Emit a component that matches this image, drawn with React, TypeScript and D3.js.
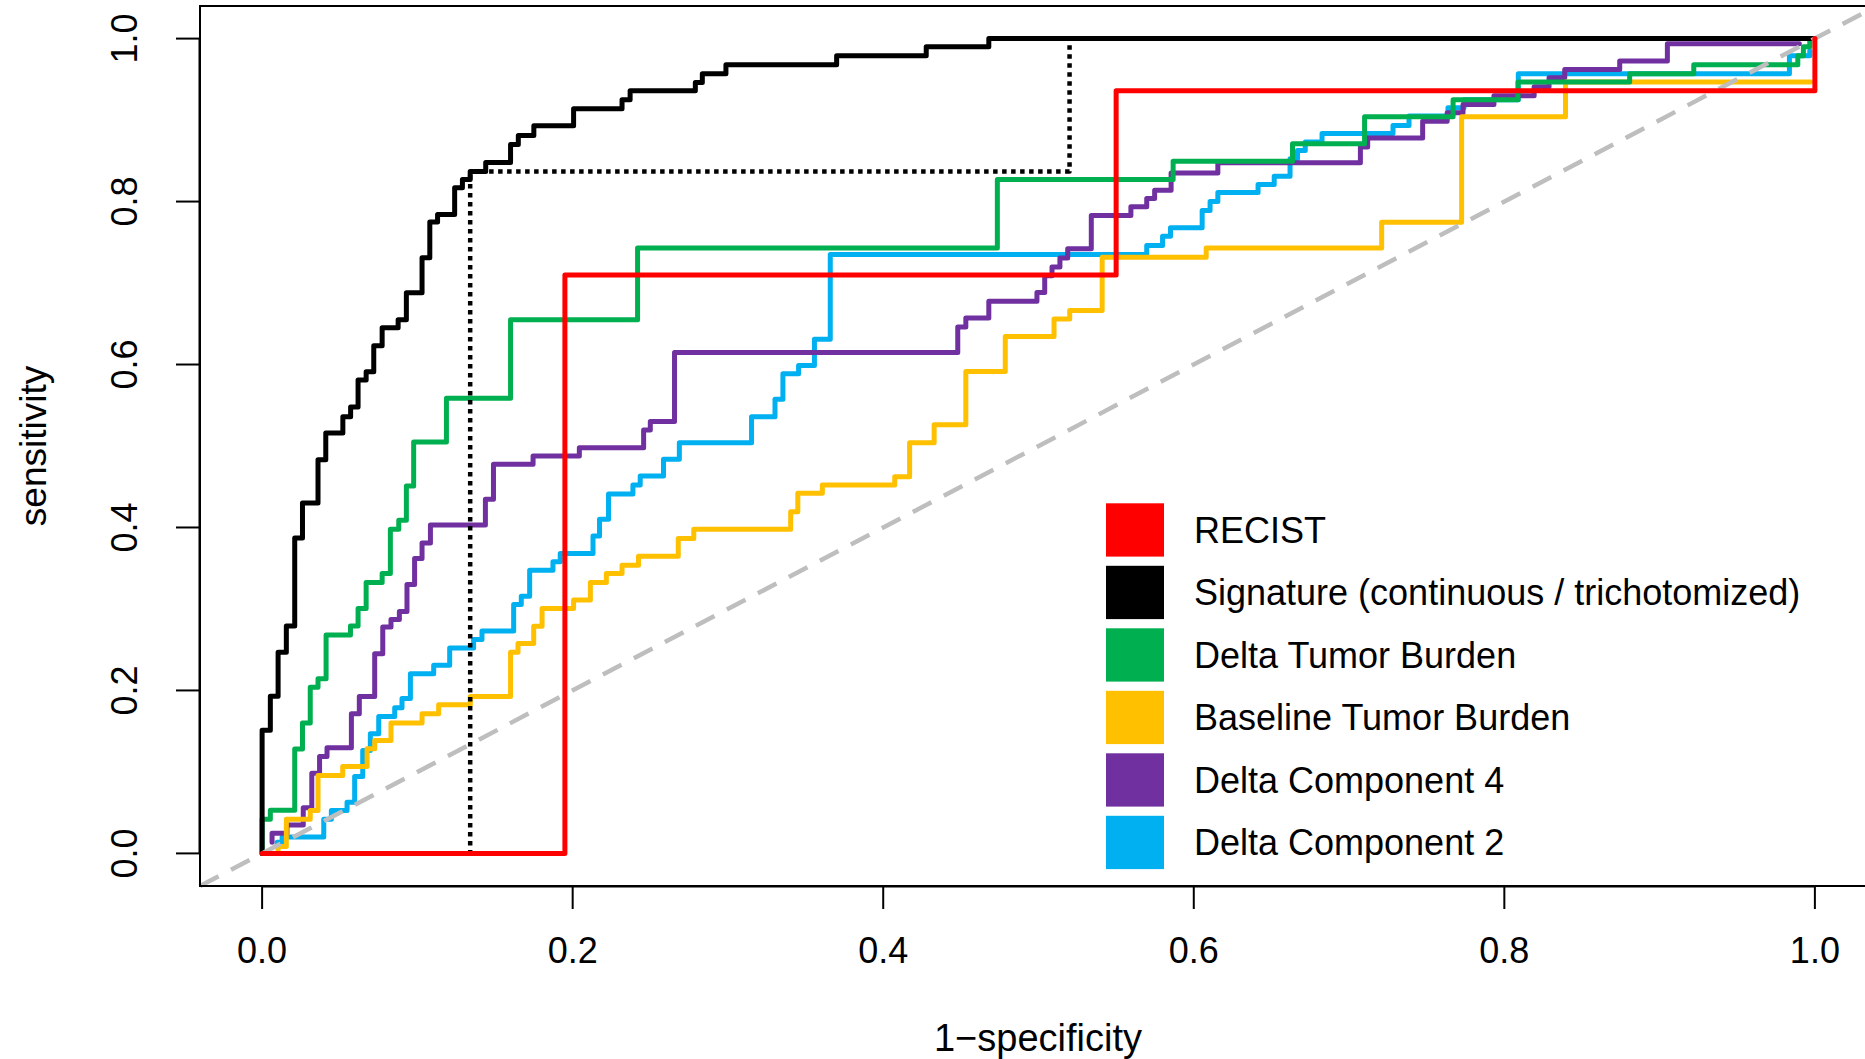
import React, { useRef, useEffect } from 'react';
import * as d3 from 'd3';

// ROC points: each pair is (1-specificity, sensitivity)
// at the top of a vertical jump; the curve then runs flat to the next point.
const recistFpr = [0, 0.195, 0.55, 1];
const recistTpr = [0, 0.71, 0.936, 1];

const triFpr = [0, 0.134, 0.52, 1];
const triTpr = [0, 0.837, 1, 1];

const sigFpr = [0, 0, 0.0053, 0.0103, 0.0156, 0.021, 0.026, 0.036, 0.041, 0.052, 0.057, 0.0618, 0.067, 0.0719,
  0.0773, 0.0876, 0.0929, 0.103, 0.108, 0.113, 0.124, 0.129, 0.134, 0.144, 0.16, 0.165, 0.175, 0.2006, 0.2318,
  0.237, 0.279, 0.2835, 0.2987, 0.37, 0.4277, 0.468, 1];
const sigTpr = [0, 0.151, 0.193, 0.247, 0.279, 0.387, 0.43, 0.483, 0.516, 0.536, 0.548, 0.581, 0.591, 0.623,
  0.645, 0.655, 0.688, 0.731, 0.775, 0.784, 0.817, 0.827, 0.837, 0.848, 0.87, 0.881, 0.893, 0.914, 0.925,
  0.936, 0.946, 0.957, 0.968, 0.979, 0.99, 1, 1];

const deltaTbFpr = [0, 0, 0.0053, 0.021, 0.026, 0.031, 0.036, 0.0412, 0.0569, 0.0618, 0.067, 0.0773, 0.0826,
  0.088, 0.0929, 0.0976, 0.1187, 0.16, 0.2418, 0.4735, 0.5867, 0.6636, 0.71, 0.767, 0.8088, 0.8807, 0.922,
  0.989, 0.9926, 0.9967, 1];
const deltaTbTpr = [0, 0.042, 0.053, 0.128, 0.16, 0.204, 0.2145, 0.268, 0.279, 0.3005, 0.3325, 0.3436, 0.3977,
  0.409, 0.451, 0.505, 0.5587, 0.655, 0.743, 0.827, 0.8496, 0.871, 0.904, 0.925, 0.9467, 0.957, 0.968,
  0.979, 0.99, 1, 1];

const baseTbFpr = [0.0103, 0.0103, 0.0156, 0.031, 0.036, 0.0519, 0.0676, 0.0725, 0.083, 0.103, 0.1137, 0.1341,
  0.16, 0.1648, 0.1749, 0.1803, 0.2006, 0.2114, 0.2217, 0.2318, 0.2424, 0.268, 0.278, 0.3404, 0.345, 0.3608,
  0.4074, 0.417, 0.4328, 0.4532, 0.4786, 0.51, 0.5201, 0.541, 0.608, 0.721, 0.7725, 0.8394, 0.9972];
const baseTbTpr = [0.0034, 0.0084, 0.042, 0.0526, 0.0956, 0.1067, 0.1285, 0.1387, 0.16, 0.1715, 0.1825, 0.1927,
  0.247, 0.2575, 0.2788, 0.3005, 0.311, 0.3325, 0.3436, 0.3538, 0.3648, 0.3866, 0.3977, 0.4193, 0.4419, 0.452,
  0.4624, 0.504, 0.526, 0.5914, 0.6344, 0.6558, 0.6664, 0.7316, 0.743, 0.7746, 0.904, 0.9467, 0.9467];

const comp4Fpr = [0.0064, 0.0064, 0.016, 0.0265, 0.032, 0.037, 0.0418, 0.0575, 0.0626, 0.0725, 0.0777, 0.083,
  0.0884, 0.0933, 0.0982, 0.103, 0.1084, 0.1438, 0.149, 0.1745, 0.2043, 0.2457, 0.25, 0.2656, 0.448, 0.4532,
  0.468, 0.499, 0.504, 0.5087, 0.5138, 0.5188, 0.534, 0.5595, 0.5697, 0.5748, 0.5854, 0.6155, 0.7073, 0.712,
  0.7474, 0.7632, 0.7734, 0.7933, 0.8192, 0.8288, 0.8389, 0.8743, 0.905, 0.99];
const comp4Tpr = [0.0137, 0.0247, 0.035, 0.056, 0.0985, 0.119, 0.1297, 0.1715, 0.1927, 0.245, 0.278, 0.287,
  0.297, 0.33, 0.362, 0.381, 0.403, 0.4346, 0.4776, 0.4878, 0.498, 0.5197, 0.53, 0.6147, 0.646, 0.657,
  0.6775, 0.6885, 0.709, 0.7197, 0.7308, 0.742, 0.783, 0.7935, 0.8037, 0.814, 0.835, 0.8476, 0.867, 0.878,
  0.8987, 0.909, 0.919, 0.93, 0.941, 0.952, 0.962, 0.9725, 0.9938, 0.9938];

const comp2Fpr = [0.0097, 0.0097, 0.0129, 0.0397, 0.0446, 0.0547, 0.0596, 0.0648, 0.0697, 0.0751, 0.0854,
  0.0901, 0.0955, 0.1105, 0.1208, 0.1362, 0.1416, 0.162, 0.1669, 0.1723, 0.1873, 0.192, 0.2131, 0.2173,
  0.2231, 0.2388, 0.2435, 0.2585, 0.2687, 0.3152, 0.3303, 0.3354, 0.3455, 0.3557, 0.3659, 0.5697, 0.5799,
  0.585, 0.6054, 0.6105, 0.6155, 0.6414, 0.6518, 0.662, 0.6668, 0.6718, 0.6826, 0.7283, 0.7386, 0.7637,
  0.774, 0.809, 0.9836, 0.9967];
const comp2Tpr = [0.0084, 0.0137, 0.02, 0.042, 0.0526, 0.0628, 0.0944, 0.1264, 0.1469, 0.168, 0.1789, 0.19,
  0.2206, 0.2308, 0.252, 0.2624, 0.273, 0.3054, 0.3157, 0.3476, 0.358, 0.368, 0.3894, 0.41, 0.441, 0.452,
  0.4632, 0.4837, 0.504, 0.536, 0.5575, 0.5886, 0.5988, 0.631, 0.7349, 0.746, 0.7574, 0.7677, 0.789, 0.8,
  0.811, 0.821, 0.831, 0.8525, 0.8627, 0.873, 0.8836, 0.8934, 0.905, 0.915, 0.925, 0.957, 0.979, 0.985];

const tickValues = [0, 0.2, 0.4, 0.6, 0.8, 1.0];
const tickLabels = ['0.0', '0.2', '0.4', '0.6', '0.8', '1.0'];

const legendLabels = ['RECIST', 'Signature (continuous / trichotomized)', 'Delta Tumor Burden',
  'Baseline Tumor Burden', 'Delta Component 4', 'Delta Component 2'];
const legendColors = ['#ff0000', '#000000', '#00b050', '#ffc000', '#7030a0', '#00b0f0'];

const App = () => {
  const chartRef = useRef<SVGSVGElement>(null);

  useEffect(() => {
    const width = 1865;
    const height = 1059;
    const plot = { left: 200, top: 6, right: 1877, bottom: 886 };
    const font = '"Liberation Sans", Arial, Helvetica, sans-serif';

    const svg = d3.select(chartRef.current)
      .attr('width', width)
      .attr('height', height);
    svg.selectAll('*').remove();

    svg.append('rect').attr('width', width).attr('height', height).attr('fill', '#ffffff');

    // R pads the [0, 1] range by 4% on each side
    const x = d3.scaleLinear().domain([-0.04, 1.04]).range([plot.left, plot.right]);
    const y = d3.scaleLinear().domain([-0.04, 1.04]).range([plot.bottom, plot.top]);

    const step = d3.line<[number, number]>()
      .x(d => x(d[0]))
      .y(d => y(d[1]))
      .curve(d3.curveStepAfter);

    const zip = (a: number[], b: number[]) => a.map((v, i) => [v, b[i]] as [number, number]);

    const drawCurve = (pts: [number, number][], color: string, dash?: string) => {
      const p = svg.append('path')
        .attr('d', step(pts))
        .attr('fill', 'none')
        .attr('stroke', color)
        .attr('stroke-width', dash ? 4.5 : 5)
        .attr('stroke-linejoin', 'round')
        .attr('stroke-linecap', dash ? 'butt' : 'round');
      if (dash) p.attr('stroke-dasharray', dash);
    };

    drawCurve(zip(comp2Fpr, comp2Tpr), legendColors[5]);
    drawCurve(zip(comp4Fpr, comp4Tpr), legendColors[4]);
    drawCurve(zip(baseTbFpr, baseTbTpr), legendColors[3]);
    drawCurve(zip(deltaTbFpr, deltaTbTpr), legendColors[2]);
    drawCurve(zip(sigFpr, sigTpr), legendColors[1]);

    // chance diagonal
    svg.append('line')
      .attr('x1', x(-0.04)).attr('y1', y(-0.04))
      .attr('x2', x(1.04)).attr('y2', y(1.04))
      .attr('stroke', '#bebebe')
      .attr('stroke-width', 4.5)
      .attr('stroke-dasharray', '21 14');

    drawCurve(zip(triFpr, triTpr), '#000000', '4.5 4.5');
    drawCurve(zip(recistFpr, recistTpr), legendColors[0]);

    // box
    svg.append('rect')
      .attr('x', plot.left).attr('y', plot.top)
      .attr('width', plot.right - plot.left).attr('height', plot.bottom - plot.top)
      .attr('fill', 'none').attr('stroke', '#000').attr('stroke-width', 2);

    // x axis
    const xAxis = svg.append('g');
    xAxis.append('line')
      .attr('x1', x(0)).attr('x2', x(1)).attr('y1', plot.bottom + 0.5).attr('y2', plot.bottom + 0.5)
      .attr('stroke', '#000').attr('stroke-width', 2);
    tickValues.forEach((t, i) => {
      xAxis.append('line')
        .attr('x1', x(t)).attr('x2', x(t)).attr('y1', plot.bottom).attr('y2', plot.bottom + 23)
        .attr('stroke', '#000').attr('stroke-width', 2);
      xAxis.append('text')
        .attr('x', x(t)).attr('y', 963)
        .attr('text-anchor', 'middle')
        .attr('font-family', font)
        .attr('font-size', 36)
        .text(tickLabels[i]);
    });

    // y axis
    const yAxis = svg.append('g');
    yAxis.append('line')
      .attr('x1', plot.left - 0.5).attr('x2', plot.left - 0.5).attr('y1', y(0)).attr('y2', y(1))
      .attr('stroke', '#000').attr('stroke-width', 2);
    tickValues.forEach((t, i) => {
      yAxis.append('line')
        .attr('x1', plot.left).attr('x2', plot.left - 24).attr('y1', y(t)).attr('y2', y(t))
        .attr('stroke', '#000').attr('stroke-width', 2);
      yAxis.append('text')
        .attr('transform', `translate(137,${y(t)}) rotate(-90)`)
        .attr('text-anchor', 'middle')
        .attr('font-family', font)
        .attr('font-size', 36)
        .text(tickLabels[i]);
    });

    // axis titles
    svg.append('text')
      .attr('x', 1038).attr('y', 1051)
      .attr('text-anchor', 'middle')
      .attr('font-family', font)
      .attr('font-size', 38)
      .text('1\u2212specificity');
    svg.append('text')
      .attr('transform', `translate(46,446) rotate(-90)`)
      .attr('text-anchor', 'middle')
      .attr('font-family', font)
      .attr('font-size', 37)
      .text('sensitivity');

    // legend
    const legend = svg.append('g');
    legendLabels.forEach((label, i) => {
      const top = 503.3 + i * 62.5;
      legend.append('rect')
        .attr('x', 1106).attr('y', top)
        .attr('width', 58).attr('height', 53.3)
        .attr('fill', legendColors[i]);
      legend.append('text')
        .attr('x', 1194).attr('y', top + 26.7 + 12.5)
        .attr('font-family', font)
        .attr('font-size', 36)
        .text(label);
    });
  }, []);

  return (
    <svg ref={chartRef} style={{ position: 'absolute', left: 0, top: 0, display: 'block' }}></svg>
  );
};

export default App;
